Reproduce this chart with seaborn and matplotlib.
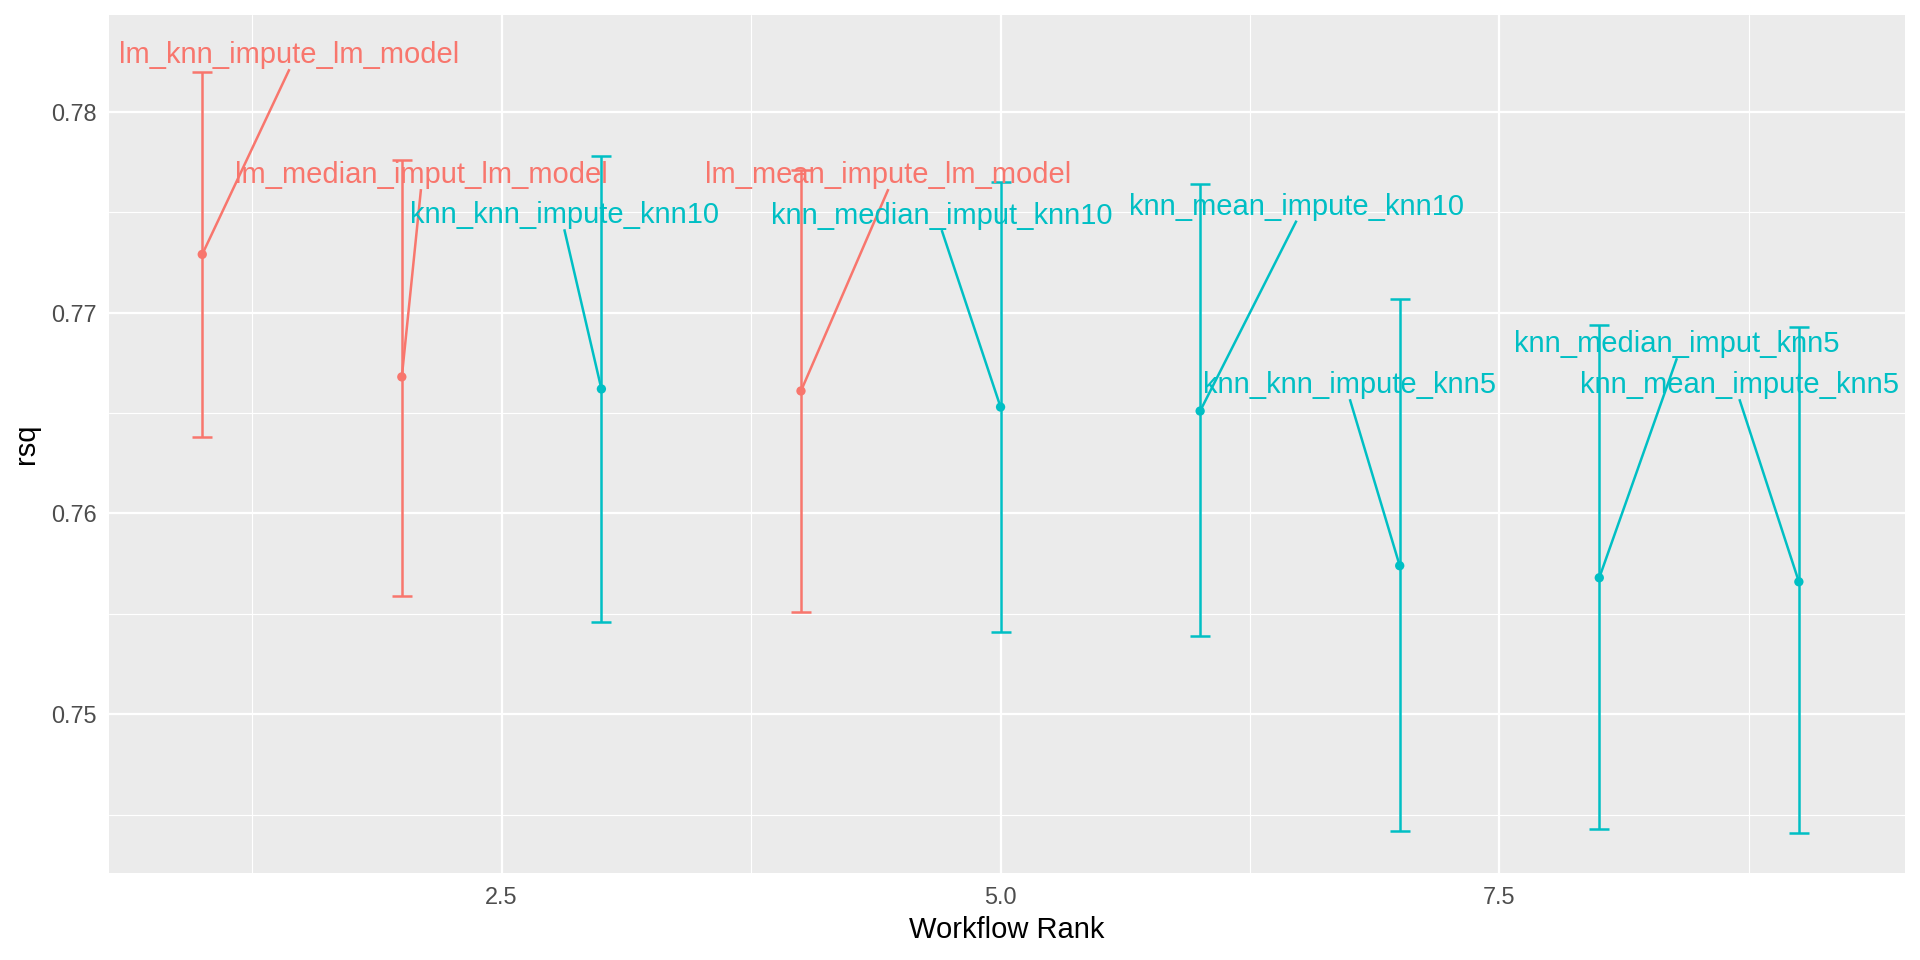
import pandas as pd
import matplotlib
matplotlib.use("Agg")
import matplotlib.pyplot as plt
import seaborn as sns

# workflow results, ranked by rsq
workflows = [
    "lm_knn_impute_lm_model", "lm_median_imput_lm_model", "knn_knn_impute_knn10",
    "lm_mean_impute_lm_model", "knn_median_imput_knn10", "knn_mean_impute_knn10",
    "knn_knn_impute_knn5", "knn_median_imput_knn5", "knn_mean_impute_knn5",
]
model = ["lm", "lm", "knn", "lm", "knn", "knn", "knn", "knn", "knn"]
rank = [1, 2, 3, 4, 5, 6, 7, 8, 9]
rsq_mean = [0.7729, 0.7668, 0.7662, 0.7661, 0.7653, 0.7651, 0.7574, 0.7568, 0.7566]
rsq_lower = [0.7638, 0.7559, 0.7546, 0.7551, 0.7541, 0.7539, 0.7442, 0.7443, 0.7441]
rsq_upper = [0.7820, 0.7776, 0.7778, 0.7771, 0.7765, 0.7764, 0.7707, 0.7694, 0.7693]

# where the repelled labels ended up (anchor = bottom centre of the text)
label_x = [1.437, 2.096, 2.814, 4.438, 4.705, 6.483, 6.750, 8.389, 8.702]
label_y = [0.78212, 0.77615, 0.77415, 0.77615, 0.77411, 0.77458, 0.76569, 0.76773, 0.76569]

palette = {"lm": "#F8766D", "knn": "#00BFC4"}

df = pd.DataFrame({
    "wflow_id": workflows, "model": model, "rank": rank,
    "mean": rsq_mean, "lower": rsq_lower, "upper": rsq_upper,
})

sns.set_theme(style="darkgrid", rc={
    "axes.facecolor": "#EBEBEB",
    "grid.color": "white",
    "axes.edgecolor": "#EBEBEB",
})
plt.rcParams["font.family"] = ["Liberation Sans", "DejaVu Sans"]

fig, ax = plt.subplots(figsize=(19.2, 9.6), dpi=100)
fig.subplots_adjust(left=0.057, right=0.992, top=0.984, bottom=0.0906)

for m, grp in df.groupby("model"):
    ax.errorbar(grp["rank"], grp["mean"],
                yerr=[grp["mean"] - grp["lower"], grp["upper"] - grp["mean"]],
                fmt="none", ecolor=palette[m], elinewidth=1.8, capsize=7.2,
                capthick=1.8, zorder=3)

sns.scatterplot(data=df, x="rank", y="mean", hue="model", palette=palette,
                s=45, edgecolor="none", legend=False, ax=ax, zorder=4)

for i, row in df.iterrows():
    c = palette[row["model"]]
    ax.plot([row["rank"], label_x[i]], [row["mean"], label_y[i]],
            color=c, lw=1.8, zorder=5, solid_capstyle="butt")
    ax.text(label_x[i], label_y[i], row["wflow_id"], color=c, fontsize=21,
            ha="center", va="bottom", zorder=6)

ax.set_xlim(0.535, 9.53)
ax.set_ylim(0.7421, 0.7848)
ax.set_xticks([2.5, 5.0, 7.5])
ax.set_xticklabels(["2.5", "5.0", "7.5"])
ax.set_xticks([1.25, 3.75, 6.25, 8.75], minor=True)
ax.set_yticks([0.75, 0.76, 0.77, 0.78])
ax.set_yticklabels(["0.75", "0.76", "0.77", "0.78"])
ax.set_yticks([0.745, 0.755, 0.765, 0.775], minor=True)

ax.grid(which="major", color="white", linewidth=1.6)
ax.grid(which="minor", color="white", linewidth=0.8)
ax.set_axisbelow(True)
for s in ax.spines.values():
    s.set_visible(False)

ax.tick_params(axis="both", which="major", length=5.3, width=1.6,
               color="#333333", labelcolor="#4D4D4D", labelsize=16.9, pad=4)
ax.tick_params(axis="both", which="minor", length=0)

ax.set_xlabel("Workflow Rank", fontsize=21, color="black", labelpad=5)
ax.set_ylabel("rsq", fontsize=21, color="black", labelpad=8)

fig.savefig("out.png", dpi=100)
